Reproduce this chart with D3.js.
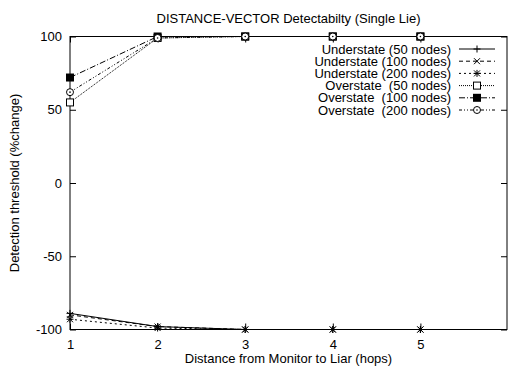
<!DOCTYPE html>
<html>
<head>
<meta charset="utf-8">
<title>DISTANCE-VECTOR Detectabilty</title>
<script src="https://d3js.org/d3.v7.min.js"></script>
<style>
  body { margin: 0; background: #fff; }
  svg { display: block; font-family: "Liberation Sans", Arial, sans-serif; }
  text { fill: #000; }
</style>
</head>
<body>
<div id="chart"></div>
<script>
// values
const hops = [1, 2, 3, 4, 5];
const xTicks = [1, 2, 3, 4, 5];
const yTicks = [-100, -50, 0, 50, 100];

const seriesNames = [
  'Understate (50 nodes)',
  'Understate (100 nodes)',
  'Understate (200 nodes)',
  'Overstate  (50 nodes)',
  'Overstate  (100 nodes)',
  'Overstate  (200 nodes)'
];
const under50  = [-89, -98, -100, -100, -100];
const under100 = [-90, -98, -100, -100, -100];
const under200 = [-93, -99, -100, -100, -100];
const over50   = [55, 99, 100, 100, 100];
const over100  = [72, 100, 100, 100, 100];
const over200  = [62, 99, 100, 100, 100];

const seriesValues = [under50, under100, under200, over50, over100, over200];
const dashes = ['', '4,3', '2,3', '1,1', '6,2,1,2', '3,2,1,2,1,2'];
const markers = ['plus', 'cross', 'star', 'square', 'fsquare', 'circle'];

const W = 508, H = 369;
const padL = 70, padR = 507, padT = 36.5, padB = 329.5;
const fs = '13px';

const svg = d3.select('#chart').append('svg').attr('width', W).attr('height', H);

const x = d3.scaleLinear().domain([1, 6]).range([padL, padR + 1]);
const y = d3.scaleLinear().domain([-100, 100]).range([padB, padT]);

// frame
svg.append('rect').attr('x', padL).attr('y', padT)
  .attr('width', padR - padL).attr('height', padB - padT)
  .attr('fill', 'none').attr('stroke', '#000').attr('stroke-width', 1);

// axes with inward ticks, mirrored
const xAxis = d3.axisBottom(x).tickValues(xTicks).tickSize(-6).tickPadding(10).tickFormat(d => String(d));
const yAxis = d3.axisLeft(y).tickValues(yTicks).tickSize(-6).tickPadding(8).tickFormat(d => String(d));
const gx = svg.append('g').attr('transform', 'translate(0,' + padB + ')').call(xAxis);
const gy = svg.append('g').attr('transform', 'translate(' + padL + ',0)').call(yAxis);
[gx, gy].forEach(g => {
  g.select('.domain').remove();
  g.selectAll('text').style('font-size', fs).style('font-family', '"Liberation Sans", Arial, sans-serif');
});
svg.append('g').attr('transform', 'translate(0,' + padT + ')')
  .call(d3.axisTop(x).tickValues(xTicks).tickSize(-6).tickFormat(''))
  .call(g => g.select('.domain').remove());
svg.append('g').attr('transform', 'translate(' + padR + ',0)')
  .call(d3.axisRight(y).tickValues(yTicks).tickSize(-6).tickFormat(''))
  .call(g => g.select('.domain').remove());

// titles
svg.append('text').attr('x', (padL + padR) / 2).attr('y', 23).attr('text-anchor', 'middle')
  .style('font-size', fs).text('DISTANCE-VECTOR Detectabilty (Single Lie)');
svg.append('text').attr('x', (padL + padR) / 2).attr('y', 363).attr('text-anchor', 'middle')
  .style('font-size', fs).text('Distance from Monitor to Liar (hops)');
svg.append('text').attr('transform', 'translate(19,' + ((padT + padB) / 2) + ') rotate(-90)')
  .attr('text-anchor', 'middle').style('font-size', fs).text('Detection threshold (%change)');

function drawMarker(g, type, cx, cy) {
  const s = 3.5;
  if (type === 'plus') {
    g.append('path').attr('d', `M${cx - s},${cy}H${cx + s}M${cx},${cy - s}V${cy + s}`).attr('stroke', '#000');
  } else if (type === 'cross') {
    g.append('path').attr('d', `M${cx - 3},${cy - 3}L${cx + 3},${cy + 3}M${cx - 3},${cy + 3}L${cx + 3},${cy - 3}`).attr('stroke', '#000');
  } else if (type === 'star') {
    g.append('path').attr('d', `M${cx - s},${cy}H${cx + s}M${cx},${cy - s}V${cy + s}M${cx - 3},${cy - 3}L${cx + 3},${cy + 3}M${cx - 3},${cy + 3}L${cx + 3},${cy - 3}`).attr('stroke', '#000');
  } else if (type === 'square') {
    g.append('rect').attr('x', cx - 3.5).attr('y', cy - 3.5).attr('width', 7).attr('height', 7)
      .attr('fill', '#fff').attr('stroke', '#000');
  } else if (type === 'fsquare') {
    g.append('rect').attr('x', cx - 4).attr('y', cy - 4).attr('width', 8).attr('height', 8).attr('fill', '#000');
  } else if (type === 'circle') {
    g.append('circle').attr('cx', cx).attr('cy', cy).attr('r', 3.5).attr('fill', '#fff').attr('stroke', '#000');
    g.append('circle').attr('cx', cx).attr('cy', cy).attr('r', 0.8).attr('fill', '#000');
  }
}

const line = d3.line().x((d, i) => x(hops[i])).y(d => y(d));

seriesValues.forEach((vals, k) => {
  const g = svg.append('g');
  g.append('path').datum(vals).attr('d', line).attr('fill', 'none')
    .attr('stroke', '#000').attr('stroke-width', 1).attr('stroke-dasharray', dashes[k] || null);
  vals.forEach((v, i) => drawMarker(g, markers[k], x(hops[i]), y(v)));
});

// legend
const legend = svg.append('g');
seriesNames.forEach((name, k) => {
  const ly = 49 + k * 12.2;
  legend.append('text').attr('x', 451).attr('y', ly + 4.5).attr('text-anchor', 'end')
    .style('font-size', fs).style('white-space', 'pre').text(name);
  legend.append('line').attr('x1', 459).attr('x2', 495).attr('y1', ly).attr('y2', ly)
    .attr('stroke', '#000').attr('stroke-dasharray', dashes[k] || null);
  drawMarker(legend, markers[k], 477, ly);
});
</script>
</body>
</html>
